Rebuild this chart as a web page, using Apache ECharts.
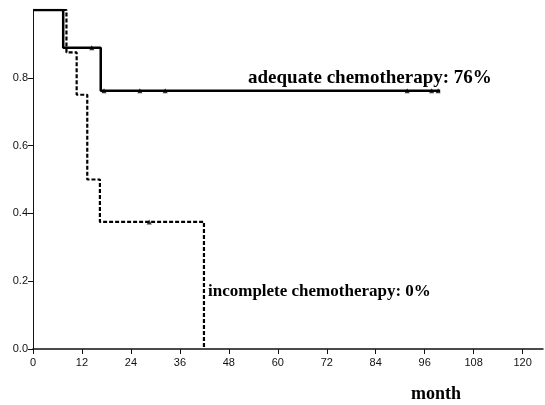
<!DOCTYPE html>
<html>
<head>
<meta charset="utf-8">
<script src="https://cdn.jsdelivr.net/npm/echarts@6/dist/echarts.min.js"></script>
<style>
  html, body { margin: 0; padding: 0; background: #fff; }
  #chart { width: 545px; height: 405px; }
</style>
</head>
<body>
<div id="chart"></div>
<script>
// Kaplan-Meier survival: event times (months) and survival after each step
const adequateTimes = [0, 7.4, 16.6, 99.8];
const adequateSurv = [1.0, 0.889, 0.762, 0.762];
const adequateCensorTimes = [14.4, 17.4, 26.2, 32.4, 91.7, 97.7, 99.3];
const adequateCensorSurv = [0.889, 0.762, 0.762, 0.762, 0.762, 0.762, 0.762];

const incompleteTimes = [0, 8.2, 10.7, 13.3, 16.4, 41.9];
const incompleteSurv = [1.0, 0.875, 0.75, 0.5, 0.375, 0.0];
const incompleteCensorTimes = [28.5];
const incompleteCensorSurv = [0.375];

const xTicks = [0, 12, 24, 36, 48, 60, 72, 84, 96, 108, 120];
const yTicks = [0.0, 0.2, 0.4, 0.6, 0.8];

const labelAdequate = 'adequate chemotherapy: 76%';
const labelIncomplete = 'incomplete chemotherapy: 0%';
const xTitle = 'month';

const zip = (xs, ys) => xs.map((x, i) => [x, ys[i]]);

const chart = echarts.init(document.getElementById('chart'), null, { renderer: 'canvas' });

const serif = '"Liberation Serif", "DejaVu Serif", serif';
const sans = '"Liberation Sans", Arial, sans-serif';

chart.setOption({
  animation: false,
  backgroundColor: '#fff',
  grid: { left: 33, right: 2, top: 10, bottom: 56, containLabel: false },
  xAxis: {
    type: 'value',
    min: 0,
    max: 125,
    interval: 12,
    axisLine: { show: true, onZero: false, lineStyle: { color: '#111', width: 1.5 } },
    axisTick: { show: true, inside: false, length: 5, lineStyle: { color: '#111' } },
    axisLabel: {
      color: '#111', fontFamily: sans, fontSize: 11, margin: 8,
      showMaxLabel: false,
      formatter: v => (xTicks.includes(v) ? String(v) : '')
    },
    splitLine: { show: false }
  },
  yAxis: {
    type: 'value',
    min: 0,
    max: 1,
    interval: 0.2,
    axisLine: { show: true, onZero: false, lineStyle: { color: '#111', width: 1 } },
    axisTick: { show: true, inside: false, length: 5, lineStyle: { color: '#111' } },
    axisLabel: {
      color: '#111', fontFamily: sans, fontSize: 11, margin: 5,
      showMaxLabel: false,
      formatter: v => (yTicks.some(t => Math.abs(t - v) < 1e-9) ? v.toFixed(1) : '')
    },
    splitLine: { show: false }
  },
  series: [
    {
      name: 'adequate',
      type: 'line',
      step: 'end',
      data: zip(adequateTimes, adequateSurv),
      symbol: 'none',
      lineStyle: { color: '#000', width: 2.5, type: 'solid' },
      z: 3
    },
    {
      name: 'adequate censored',
      type: 'scatter',
      data: zip(adequateCensorTimes, adequateCensorSurv),
      symbol: 'triangle',
      symbolSize: 5,
      itemStyle: { color: '#000' },
      z: 4
    },
    {
      name: 'incomplete',
      type: 'line',
      step: 'end',
      data: zip(incompleteTimes, incompleteSurv),
      symbol: 'none',
      lineStyle: { color: '#000', width: 2.2, type: [4, 2] },
      z: 2
    },
    {
      name: 'incomplete censored',
      type: 'scatter',
      data: zip(incompleteCensorTimes, incompleteCensorSurv),
      symbol: 'triangle',
      symbolSize: 5,
      itemStyle: { color: '#000' },
      z: 4
    }
  ],
  graphic: [
    {
      type: 'text', left: 248, top: 69,
      style: { text: labelAdequate, fill: '#000', font: 'bold 19px ' + serif }
    },
    {
      type: 'text', left: 208, top: 283,
      style: { text: labelIncomplete, fill: '#000', font: 'bold 17px ' + serif }
    },
    {
      type: 'text', left: 411, top: 385,
      style: { text: xTitle, fill: '#000', font: 'bold 18px ' + serif }
    }
  ]
});
</script>
</body>
</html>
